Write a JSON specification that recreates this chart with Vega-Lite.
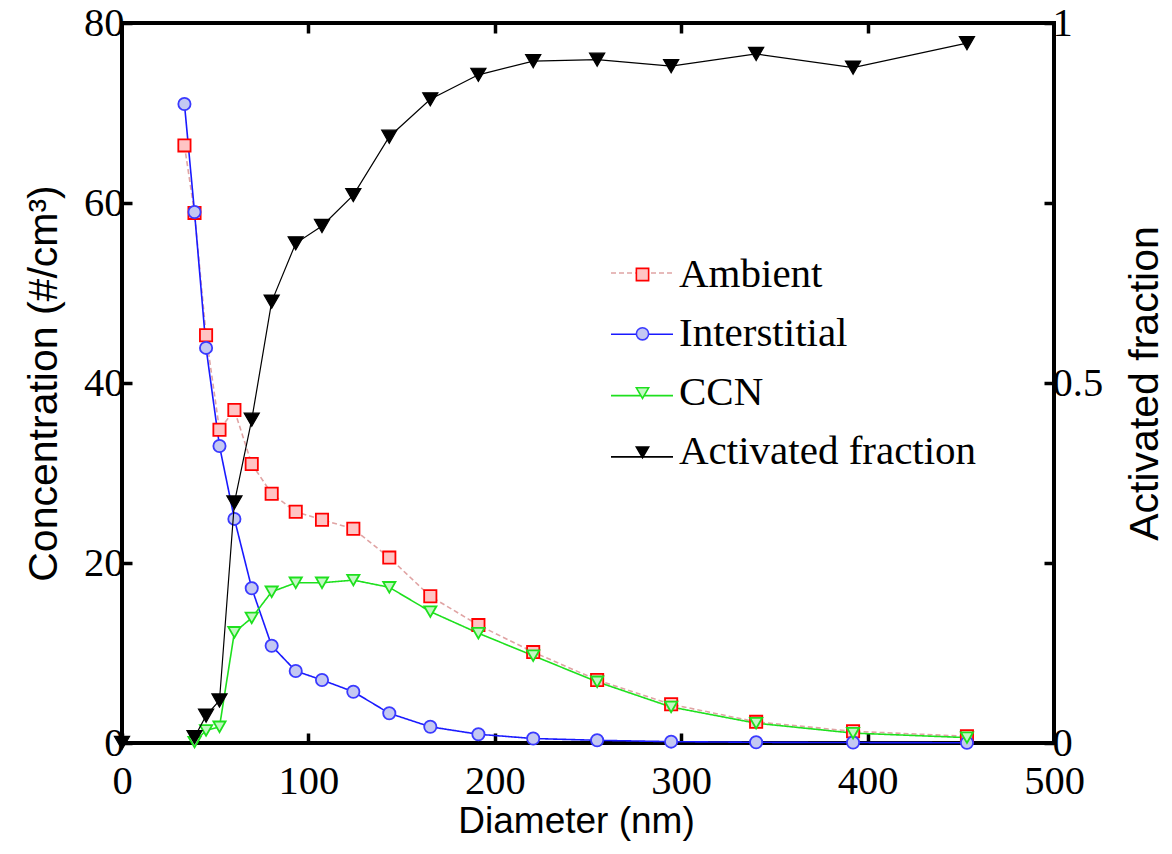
{
  "$schema": "https://vega.github.io/schema/vega-lite/v6.json",
  "width": 932,
  "height": 720,
  "autosize": {"type": "none"},
  "padding": {"left": 122, "top": 23, "right": 118, "bottom": 111},
  "background": "white",
  "config": {
    "view": {"stroke": "black", "strokeWidth": 4},
    "axis": {
      "domain": false, "grid": false, "ticks": true, "tickColor": "black", "tickWidth": 3.5, "tickSize": -10,
      "labelFont": "Liberation Serif", "labelFontSize": 40.5, "labelColor": "black", "labelFlush": false, "labelOverlap": false,
      "titleFont": "Liberation Sans", "titleFontWeight": "normal", "titleColor": "black", "titleFontSize": 41
    },
    "legend": {"padding": 0, "titlePadding": 0, "labelLimit": 0}
  },
  "datasets": {
    "concentration": [
      {"series": "Ambient", "diameter": 33.5, "concentration": 66.4},
      {"series": "Ambient", "diameter": 38.9, "concentration": 58.9},
      {"series": "Ambient", "diameter": 45.1, "concentration": 45.3},
      {"series": "Ambient", "diameter": 52.3, "concentration": 34.8},
      {"series": "Ambient", "diameter": 60.3, "concentration": 37.0},
      {"series": "Ambient", "diameter": 69.6, "concentration": 31.0},
      {"series": "Ambient", "diameter": 80.3, "concentration": 27.7},
      {"series": "Ambient", "diameter": 93.2, "concentration": 25.7},
      {"series": "Ambient", "diameter": 107.3, "concentration": 24.8},
      {"series": "Ambient", "diameter": 124.1, "concentration": 23.8},
      {"series": "Ambient", "diameter": 143.4, "concentration": 20.6},
      {"series": "Ambient", "diameter": 165.4, "concentration": 16.3},
      {"series": "Ambient", "diameter": 191.2, "concentration": 13.1},
      {"series": "Ambient", "diameter": 220.6, "concentration": 10.1},
      {"series": "Ambient", "diameter": 254.9, "concentration": 7.0},
      {"series": "Ambient", "diameter": 294.6, "concentration": 4.3},
      {"series": "Ambient", "diameter": 340.2, "concentration": 2.35},
      {"series": "Ambient", "diameter": 392.2, "concentration": 1.3},
      {"series": "Ambient", "diameter": 453.3, "concentration": 0.75},
      {"series": "Interstitial", "diameter": 33.5, "concentration": 71.0},
      {"series": "Interstitial", "diameter": 38.9, "concentration": 59.0},
      {"series": "Interstitial", "diameter": 45.1, "concentration": 43.9},
      {"series": "Interstitial", "diameter": 52.3, "concentration": 33.0},
      {"series": "Interstitial", "diameter": 60.3, "concentration": 24.9},
      {"series": "Interstitial", "diameter": 69.6, "concentration": 17.2},
      {"series": "Interstitial", "diameter": 80.3, "concentration": 10.8},
      {"series": "Interstitial", "diameter": 93.2, "concentration": 8.0},
      {"series": "Interstitial", "diameter": 107.3, "concentration": 7.0},
      {"series": "Interstitial", "diameter": 124.1, "concentration": 5.7},
      {"series": "Interstitial", "diameter": 143.4, "concentration": 3.3},
      {"series": "Interstitial", "diameter": 165.4, "concentration": 1.8},
      {"series": "Interstitial", "diameter": 191.2, "concentration": 0.97},
      {"series": "Interstitial", "diameter": 220.6, "concentration": 0.5},
      {"series": "Interstitial", "diameter": 254.9, "concentration": 0.3},
      {"series": "Interstitial", "diameter": 294.6, "concentration": 0.15},
      {"series": "Interstitial", "diameter": 340.2, "concentration": 0.08},
      {"series": "Interstitial", "diameter": 392.2, "concentration": 0.05},
      {"series": "Interstitial", "diameter": 453.3, "concentration": 0.03},
      {"series": "CCN", "diameter": 38.9, "concentration": 0.1},
      {"series": "CCN", "diameter": 45.1, "concentration": 1.4},
      {"series": "CCN", "diameter": 52.3, "concentration": 1.8},
      {"series": "CCN", "diameter": 60.3, "concentration": 12.3},
      {"series": "CCN", "diameter": 69.6, "concentration": 13.9},
      {"series": "CCN", "diameter": 80.3, "concentration": 16.8},
      {"series": "CCN", "diameter": 93.2, "concentration": 17.8},
      {"series": "CCN", "diameter": 107.3, "concentration": 17.8},
      {"series": "CCN", "diameter": 124.1, "concentration": 18.1},
      {"series": "CCN", "diameter": 143.4, "concentration": 17.3},
      {"series": "CCN", "diameter": 165.4, "concentration": 14.6},
      {"series": "CCN", "diameter": 191.2, "concentration": 12.2},
      {"series": "CCN", "diameter": 220.6, "concentration": 9.7},
      {"series": "CCN", "diameter": 254.9, "concentration": 6.8},
      {"series": "CCN", "diameter": 294.6, "concentration": 4.0},
      {"series": "CCN", "diameter": 340.2, "concentration": 2.2},
      {"series": "CCN", "diameter": 392.2, "concentration": 1.1},
      {"series": "CCN", "diameter": 453.3, "concentration": 0.6}
    ],
    "activated": [
      {"series": "Activated fraction", "diameter": 0, "fraction": 0},
      {"series": "Activated fraction", "diameter": 38.9, "fraction": 0.008},
      {"series": "Activated fraction", "diameter": 45.1, "fraction": 0.038},
      {"series": "Activated fraction", "diameter": 52.3, "fraction": 0.059},
      {"series": "Activated fraction", "diameter": 60.3, "fraction": 0.334},
      {"series": "Activated fraction", "diameter": 69.6, "fraction": 0.449},
      {"series": "Activated fraction", "diameter": 80.3, "fraction": 0.613},
      {"series": "Activated fraction", "diameter": 93.2, "fraction": 0.694},
      {"series": "Activated fraction", "diameter": 107.3, "fraction": 0.718},
      {"series": "Activated fraction", "diameter": 124.1, "fraction": 0.761},
      {"series": "Activated fraction", "diameter": 143.4, "fraction": 0.842},
      {"series": "Activated fraction", "diameter": 165.4, "fraction": 0.894},
      {"series": "Activated fraction", "diameter": 191.2, "fraction": 0.928},
      {"series": "Activated fraction", "diameter": 220.6, "fraction": 0.947},
      {"series": "Activated fraction", "diameter": 254.9, "fraction": 0.949},
      {"series": "Activated fraction", "diameter": 294.6, "fraction": 0.94},
      {"series": "Activated fraction", "diameter": 340.2, "fraction": 0.957},
      {"series": "Activated fraction", "diameter": 392.2, "fraction": 0.938},
      {"series": "Activated fraction", "diameter": 453.3, "fraction": 0.972}
    ]
  },
  "layer": [
    {
      "data": {"name": "concentration"},
      "encoding": {
        "x": {"field": "diameter", "type": "quantitative", "scale": {"domain": [0, 500], "nice": false, "zero": false},
          "axis": {"orient": "bottom", "values": [0, 100, 200, 300, 400, 500], "title": "Diameter (nm)", "titleFontSize": 37, "labelPadding": 28, "titlePadding": 2, "titleX": 454}},
        "y": {"field": "concentration", "type": "quantitative", "scale": {"domain": [0, 80], "nice": false},
          "axis": {"orient": "left", "values": [0, 20, 40, 60, 80], "title": "Concentration (#/cm³)", "labelPadding": 8, "titlePadding": 18}}
      },
      "layer": [
        {
          "mark": {"type": "line", "strokeWidth": 1.6},
          "encoding": {
            "color": {"field": "series", "type": "nominal",
              "scale": {"domain": ["Ambient", "Interstitial", "CCN", "Activated fraction"], "range": ["#e0a4a4", "#1a1aff", "#1ee01e", "#000000"]},
              "legend": {"orient": "none", "legendX": 488, "legendY": 218, "title": null, "symbolType": "stroke", "symbolSize": 3844, "symbolStrokeWidth": 1.6, "labelExpr": "''", "labelFont": "Liberation Serif", "labelFontSize": 41, "labelColor": "black", "labelOffset": 8, "rowPadding": 9.3}},
            "strokeDash": {"field": "series", "type": "nominal",
              "scale": {"domain": ["Ambient", "Interstitial", "CCN", "Activated fraction"], "range": [[5, 3], [1, 0], [1, 0], [1, 0]]},
              "legend": {"orient": "none", "legendX": 488, "legendY": 218, "title": null}}
          }
        },
        {
          "mark": {"type": "point", "size": 150, "strokeWidth": 1.8, "opacity": 1, "fillOpacity": 1},
          "encoding": {
            "fill": {"field": "series", "type": "nominal",
              "scale": {"domain": ["Activated fraction", "CCN", "Interstitial", "Ambient"], "range": ["#000000", "#c4f7c4", "#c4c8f2", "#ffc4c4"]},
              "legend": {"orient": "none", "legendX": 488, "legendY": 231, "title": null, "values": ["Ambient", "Interstitial", "CCN", "Activated fraction"], "symbolSize": 150, "symbolStrokeWidth": 1.6, "symbolOffset": 12, "labelFont": "Liberation Serif", "labelFontSize": 41, "labelColor": "black", "labelOffset": 16, "rowPadding": 17.3}},
            "stroke": {"field": "series", "type": "nominal",
              "scale": {"domain": ["Activated fraction", "CCN", "Interstitial", "Ambient"], "range": ["#000000", "#1ee01e", "#3a3aff", "#ff0000"]},
              "legend": {"orient": "none", "legendX": 488, "legendY": 231, "title": null, "values": ["Ambient", "Interstitial", "CCN", "Activated fraction"]}},
            "shape": {"field": "series", "type": "nominal",
              "scale": {"domain": ["Activated fraction", "CCN", "Interstitial", "Ambient"], "range": ["triangle-down", "triangle-down", "circle", "square"]},
              "legend": {"orient": "none", "legendX": 488, "legendY": 231, "title": null, "values": ["Ambient", "Interstitial", "CCN", "Activated fraction"]}}
          }
        }
      ]
    },
    {
      "data": {"name": "activated"},
      "encoding": {
        "x": {"field": "diameter", "type": "quantitative", "scale": {"domain": [0, 500], "nice": false, "zero": false},
          "axis": {"orient": "top", "values": [100, 200, 300, 400], "labels": false, "title": null}},
        "y": {"field": "fraction", "type": "quantitative", "scale": {"domain": [0, 1], "nice": false},
          "axis": {"orient": "right", "values": [0, 0.25, 0.5, 0.75, 1], "labelExpr": "datum.value == 1 ? '1' : datum.value == 0.5 ? '0.5' : datum.value == 0 ? '0' : ''", "labelPadding": 8, "title": "Activated fraction", "titleAngle": -90, "titleBaseline": "top", "titlePadding": 23}}
      },
      "layer": [
        {
          "transform": [{"filter": "datum.diameter > 0"}],
          "mark": {"type": "line", "strokeWidth": 1.2},
          "encoding": {"color": {"field": "series", "type": "nominal"}}
        },
        {
          "mark": {"type": "point", "size": 230, "strokeWidth": 1.2, "opacity": 1, "fillOpacity": 1},
          "encoding": {
            "fill": {"field": "series", "type": "nominal"},
            "stroke": {"field": "series", "type": "nominal"},
            "shape": {"field": "series", "type": "nominal"}
          }
        }
      ]
    }
  ],
  "resolve": {"scale": {"y": "independent"}, "axis": {"x": "independent", "y": "independent"}}
}
